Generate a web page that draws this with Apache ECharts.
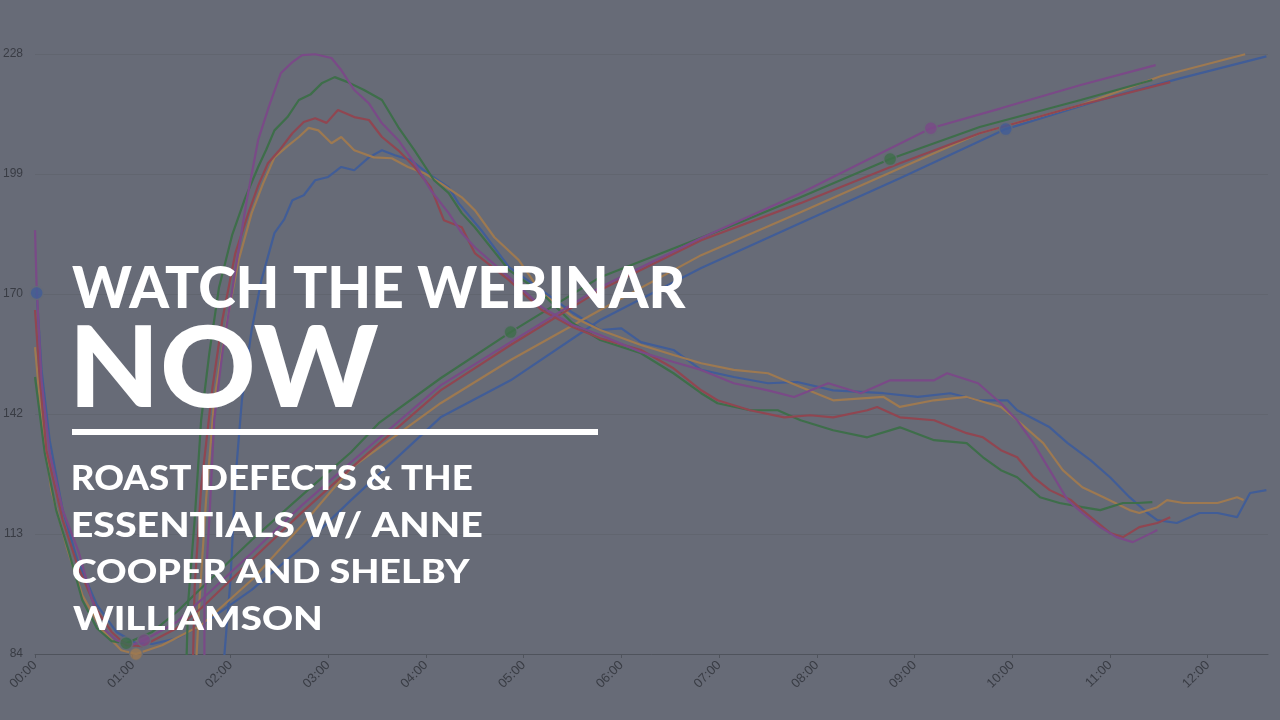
<!DOCTYPE html>
<html><head><meta charset="utf-8">
<script src="https://cdn.jsdelivr.net/npm/echarts@6.0.0/dist/echarts.min.js"></script>
<style>html,body{margin:0;padding:0;background:#676b77}#c{width:1280px;height:720px}</style>
</head><body><div id="c"></div>
<script>
// ---- DATA (time in seconds, temperature) ----
const xTickValues = [0,60,120,180,240,300,360,420,480,540,600,660,720];
const xTickLabels = ['00:00','01:00','02:00','03:00','04:00','05:00','06:00','07:00','08:00','09:00','10:00','11:00','12:00'];
const yTickLabels = ['84','113','142','170','199','228'];

// Bean temperature curves
const btBlue = [[1,170.7],[4,152.2],[9,135.3],[17,118.5],[26,106.5],[38,95.7],[50,89.2],[62,86.5],[72,86.3],[87,87.7],[102,90.8],[133,99.3],[164,109.6],[194,120.9],[249,140.8],[292,149.7],[347,164.2],[409,176.7],[470,187.5],[531,198.3],[596,210.1],[654,217.1],[703,222.3],[756,227.6]];
const btOrange = [[0,157.7],[4,140.1],[10,123.3],[20,108.9],[29,98.1],[41,89.7],[53,84.8],[62,83.9],[78,86.0],[102,90.8],[133,101.7],[164,114.9],[194,128.6],[249,144.2],[292,154.6],[347,166.6],[409,179.8],[470,190.1],[531,200.7],[580,209.1],[642,215.9],[691,222.8],[743,228.1]];
const btGreen = [[0,150.5],[6,132.2],[13,118.5],[21,108.2],[29,96.9],[38,90.1],[47,87.0],[56,86.5],[72,89.2],[87,94.0],[102,99.7],[133,111.3],[164,122.1],[194,132.4],[211,139.4],[249,150.2],[292,161.3],[347,174.5],[433,187.7],[470,193.7],[525,202.9],[580,210.6],[642,217.1],[686,221.9]];
const btRed = [[0,166.6],[3,149.7],[7,132.9],[17,116.1],[26,105.3],[38,94.4],[47,89.2],[56,86.0],[66,85.8],[87,90.1],[102,94.9],[133,106.5],[164,118.0],[194,128.6],[249,147.3],[292,158.2],[347,171.4],[409,183.4],[470,192.3],[531,201.9],[580,209.1],[642,215.9],[697,221.4]];
const btPurple = [[0,185.8],[1,172.1],[4,149.7],[9,132.2],[17,118.5],[27,108.2],[35,96.9],[41,90.4],[50,87.2],[59,86.0],[67,87.2],[87,91.6],[102,96.9],[133,108.2],[164,119.7],[194,130.0],[249,148.5],[292,158.9],[347,172.1],[409,183.9],[470,194.7],[513,203.1],[550,210.3],[593,215.1],[642,220.7],[688,225.5]];

// Rate-of-rise curves
const rorBlue = [[116,82.4],[120,101.7],[123,125.7],[127,144.9],[133,161.8],[139,173.8],[147,185.1],[153,188.4],[158,193.0],[165,194.2],[172,197.8],[180,198.6],[188,201.0],[196,200.2],[205,203.3],[213,205.0],[221,203.8],[231,202.6],[241,199.5],[254,196.1],[260,192.3],[274,185.8],[291,176.9],[311,171.4],[330,166.0],[347,161.8],[360,162.2],[372,158.9],[392,157.0],[409,152.2],[429,150.5],[450,149.0],[468,149.3],[490,147.3],[521,146.6],[542,145.7],[562,146.6],[579,144.9],[597,144.9],[603,142.5],[623,138.4],[634,134.6],[648,130.5],[660,126.4],[672,121.6],[683,117.8],[689,116.1],[701,115.4],[715,117.8],[726,117.8],[738,116.8],[746,122.6],[756,123.3]];
const rorOrange = [[99,82.4],[101,96.9],[105,120.9],[110,144.9],[118,164.2],[125,178.6],[133,189.9],[140,197.0],[147,203.3],[155,206.0],[162,208.2],[168,210.4],[174,209.8],[182,206.7],[188,208.2],[196,205.0],[208,203.3],[219,203.1],[229,201.0],[239,199.5],[249,197.1],[262,193.7],[270,190.6],[282,184.1],[297,178.6],[311,170.7],[330,165.0],[347,161.8],[372,158.2],[392,155.8],[409,153.8],[429,152.2],[450,151.4],[470,148.1],[490,144.9],[521,145.7],[531,143.3],[552,144.9],[572,145.7],[593,143.3],[603,140.1],[619,134.6],[631,128.1],[643,124.0],[656,121.6],[672,118.5],[678,117.8],[689,119.2],[695,120.9],[705,120.2],[726,120.2],[738,121.6],[742,120.9]];
const rorGreen = [[93,82.4],[94,96.1],[98,116.1],[102,140.1],[107,156.2],[113,172.1],[121,184.6],[129,193.5],[137,201.0],[142,205.2],[147,209.8],[155,213.0],[162,217.1],[169,218.4],[176,221.1],[184,222.6],[192,221.4],[202,219.5],[213,217.1],[223,210.6],[233,205.0],[245,197.8],[254,194.7],[262,189.9],[270,186.5],[291,176.2],[311,170.7],[330,163.5],[347,159.4],[372,156.2],[392,151.4],[409,146.6],[419,144.2],[439,142.5],[456,142.5],[470,140.1],[490,137.7],[511,136.0],[531,138.4],[552,135.3],[572,134.6],[582,131.2],[593,128.1],[603,126.4],[617,121.6],[629,120.2],[643,119.2],[654,118.5],[668,120.2],[677,120.2],[686,120.4]];
const rorRed = [[97,82.4],[98,100.0],[102,124.0],[109,148.1],[115,164.2],[123,180.3],[131,189.9],[137,196.5],[143,201.9],[150,205.0],[158,209.1],[165,211.8],[172,212.7],[179,211.6],[186,214.7],[196,213.0],[205,212.3],[213,208.2],[223,205.0],[233,201.0],[243,196.1],[251,188.2],[262,186.5],[270,180.3],[291,173.8],[311,166.6],[330,162.5],[347,159.8],[372,157.0],[392,152.6],[409,147.3],[419,144.9],[439,142.5],[460,140.8],[476,141.3],[490,140.8],[511,142.5],[517,143.3],[531,140.8],[552,140.1],[572,137.0],[582,136.0],[593,132.9],[603,131.2],[613,126.4],[623,123.3],[636,120.9],[643,118.5],[660,113.0],[668,112.0],[678,114.4],[689,115.4],[697,116.8]];
const rorPurple = [[104,82.4],[104,96.1],[107,116.1],[110,140.1],[115,156.2],[123,176.2],[130,193.0],[137,207.5],[144,216.0],[151,223.6],[158,226.2],[164,227.9],[172,228.1],[182,227.2],[188,224.3],[196,219.5],[205,216.3],[213,211.5],[223,207.5],[233,201.9],[243,195.4],[254,189.9],[262,185.1],[270,181.7],[291,174.5],[311,167.3],[330,163.0],[347,160.6],[372,156.5],[392,154.1],[409,152.2],[429,149.0],[450,147.3],[466,145.7],[487,149.0],[507,146.6],[525,149.7],[552,149.7],[560,151.4],[579,149.0],[593,144.2],[603,140.1],[613,134.6],[623,128.1],[634,120.9],[643,117.8],[654,114.4],[664,112.0],[674,110.8],[685,112.9],[689,113.7]];

// Event markers: [time, temperature, series index 0..4 = blue, orange, green, red, purple]
const events = [[1,170.7,0],[56,86.5,2],[62,83.9,1],[67,87.2,4],[292,161.3,2],[525,202.9,2],[550,210.3,4],[596,210.1,0]];

// Overlay text
const headLine1 = 'WATCH THE WEBINAR';
const headLine2 = 'NOW';
const subLines = ['ROAST DEFECTS & THE','ESSENTIALS W/ ANNE','COOPER AND SHELBY','WILLIAMSON'];

// ---- STYLE ----
const BG = '#676b77';
const COLORS = ['#415d97','#9d7951','#3e6e4a','#904651','#7a4a87'];
const names = ['Blue','Orange','Green','Red','Purple'];
const btAll = [btBlue, btOrange, btGreen, btRed, btPurple];
const rorAll = [rorBlue, rorOrange, rorGreen, rorRed, rorPurple];

function measure(text, font) {
  const c = document.createElement('canvas').getContext('2d');
  c.font = font; c.textBaseline = 'middle';
  return c.measureText(text);
}
// place a line of text so that its capitals occupy [top, baseline] and its ink spans [left, right]
function textEl(text, weight, family, left, right, top, baseline) {
  const ref = measure('H', weight + ' 100px ' + family);
  const capPer100 = ref.actualBoundingBoxAscent + ref.actualBoundingBoxDescent;
  const fs = (baseline - top) / capPer100 * 100;
  const font = weight + ' ' + fs.toFixed(2) + 'px ' + family;
  const mH = measure('H', font);
  const m = measure(text, font);
  const inkW = m.actualBoundingBoxRight + m.actualBoundingBoxLeft;
  const s = (right - left) / inkW;
  return {
    type: 'text', x: left + m.actualBoundingBoxLeft * s, y: top + mH.actualBoundingBoxAscent,
    scaleX: s, z: 100, silent: true,
    style: { text: text, font: font, fill: '#ffffff', align: 'left', verticalAlign: 'middle' }
  };
}

function draw() {
  const chart = echarts.init(document.getElementById('c'), null, {renderer: 'canvas'});
  const series = [];
  for (let i = 0; i < 5; i++) {
    series.push({ name: names[i] + ' BT', type: 'line', data: btAll[i], showSymbol: false, smooth: false,
      lineStyle: {color: COLORS[i], width: 2.2}, itemStyle: {color: COLORS[i]}, z: 2 });
    series.push({ name: names[i] + ' RoR', type: 'line', data: rorAll[i], showSymbol: false, smooth: false,
      lineStyle: {color: COLORS[i], width: 2.2}, itemStyle: {color: COLORS[i]}, z: 2 });
  }
  series.push({ name: 'events', type: 'scatter', clip: false, symbolSize: 13, z: 5,
    data: events.map(e => ({ value: [e[0], e[1]], itemStyle: {color: COLORS[e[2]]} })),
    itemStyle: {borderColor: BG, borderWidth: 1.5} });

  const L = 'Lato';
  const graphic = [
    textEl(headLine1, '900', L, 72, 686, 266, 308),
    textEl(headLine2, '900', L, 77, 379, 325, 407),
    { type: 'rect', z: 100, silent: true, shape: {x: 72, y: 429, width: 526, height: 6}, style: {fill: '#ffffff'} },
    textEl(subLines[0], '900', L, 73, 472, 465, 490),
    textEl(subLines[1], '900', L, 73, 482, 512, 537),
    textEl(subLines[2], '900', L, 73, 470, 559, 583),
    textEl(subLines[3], '900', L, 73, 320, 606, 630)
  ];

  chart.setOption({
    backgroundColor: BG,
    animation: false,
    grid: {left: 33, right: 12, top: 54, bottom: 66, containLabel: false},
    xAxis: {
      type: 'value', min: 0, max: 757,
      axisLine: {show: true, lineStyle: {color: '#4f535c', width: 1}},
      axisTick: {show: true, length: 4, customValues: xTickValues, lineStyle: {color: '#4f535c'}},
      splitLine: {show: false},
      axisLabel: {rotate: 45, margin: 9, color: '#393c44', fontSize: 13, fontFamily: 'Liberation Sans',
        customValues: xTickValues,
        formatter: v => xTickLabels[xTickValues.indexOf(Math.round(v))] || ''}
    },
    yAxis: {
      type: 'value', min: 83.9, max: 228.16, interval: 28.85,
      axisLine: {show: false}, axisTick: {show: false},
      splitLine: {show: true, lineStyle: {color: '#61656f', width: 1}},
      axisLabel: {margin: 12, color: '#393c44', fontSize: 12, fontFamily: 'Liberation Sans',
        formatter: (v, i) => yTickLabels[i] !== undefined ? yTickLabels[i] : ''}
    },
    series: series,
    graphic: graphic
  });
}
if (document.fonts && document.fonts.load) {
  Promise.all([document.fonts.load('900 60px Lato'), document.fonts.load('12px "Liberation Sans"')]).then(draw, draw);
} else { draw(); }
</script></body></html>
